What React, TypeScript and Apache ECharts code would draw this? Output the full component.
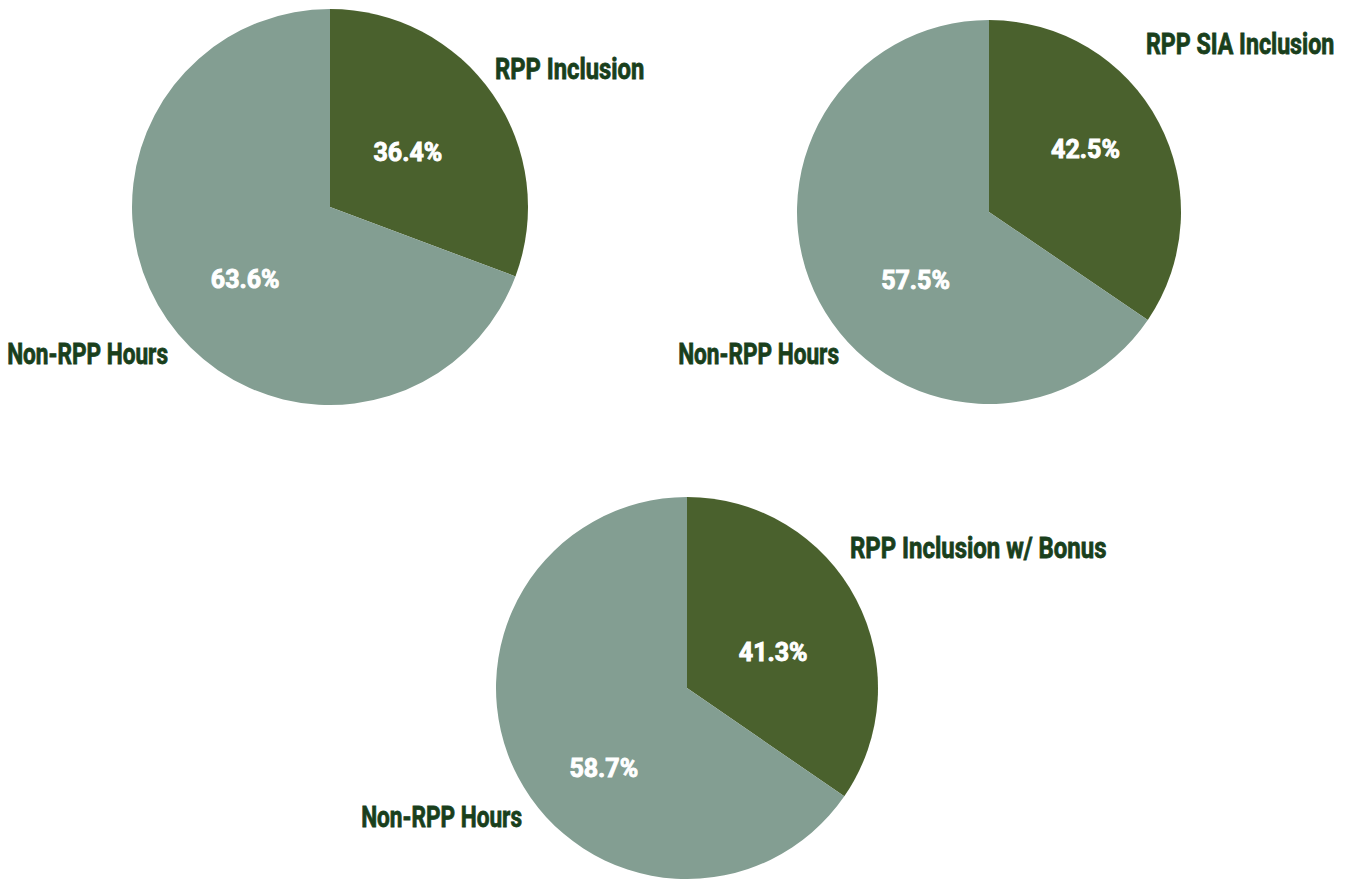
import React, { useEffect, useRef } from "react";
import * as echarts from "echarts";

// Category names per pie
const pieNames1 = ["RPP Inclusion", "Non-RPP Hours"];
const pieNames2 = ["RPP SIA Inclusion", "Non-RPP Hours"];
const pieNames3 = ["RPP Inclusion w/ Bonus", "Non-RPP Hours"];

// Slice shares as drawn
const pieShares1 = [30.7, 69.3];
const pieShares2 = [34.5, 65.5];
const pieShares3 = [34.6, 65.4];

// Percent labels as printed
const pieLabels1 = ["36.4%", "63.6%"];
const pieLabels2 = ["42.5%", "57.5%"];
const pieLabels3 = ["41.3%", "58.7%"];

const COLORS = ["#4a612d", "#839e92"];
const NAME_COLOR = "#193f1c";
const FONT = "Roboto, 'DejaVu Sans Condensed', sans-serif";

const pies = [
  { names: pieNames1, shares: pieShares1, labels: pieLabels1, center: [330, 207], r: 198,
    pctShift: [[-6, 4], [-1, 14]],
    namePos: [ { x: 495, y: 69, align: "left", sx: 0.82 }, { x: 168, y: 354, align: "right", sx: 0.78 } ] },
  { names: pieNames2, shares: pieShares2, labels: pieLabels2, center: [989, 212], r: 192,
    pctShift: [[9, -16], [14, 22]],
    namePos: [ { x: 1146, y: 44, align: "left", sx: 0.8 }, { x: 839, y: 354, align: "right", sx: 0.78 } ] },
  { names: pieNames3, shares: pieShares3, labels: pieLabels3, center: [687, 688], r: 191,
    pctShift: [[-1, 10], [4, 35]],
    namePos: [ { x: 850, y: 548, align: "left", sx: 0.825 }, { x: 522, y: 817, align: "right", sx: 0.78 } ] },
];

export default function App() {
  const ref = useRef<HTMLDivElement>(null);
  useEffect(() => {
    if (!ref.current) return;
    const chart = echarts.init(ref.current, undefined, { renderer: "svg" });
    const series: any[] = [];
    const graphic: any[] = [];
    pies.forEach((p) => {
      series.push({
        type: "pie",
        center: p.center,
        radius: p.r,
        startAngle: 90,
        clockwise: true,
        silent: true,
        data: p.names.map((n, i) => ({ name: n, value: p.shares[i], itemStyle: { color: COLORS[i] } })),
        label: {
          show: true,
          position: "inside",
          formatter: (params: any) => p.labels[params.dataIndex],
          color: "#ffffff",
          fontFamily: FONT,
          fontWeight: "bold",
          fontSize: 25,
          textBorderColor: "#ffffff",
          textBorderWidth: 0.9,
        },
        labelLine: { show: false },
        labelLayout: (params: any) => {
          const s = p.pctShift[params.dataIndex];
          return { dx: s[0], dy: s[1] };
        },
      });
      p.names.forEach((n, i) => {
        const np = p.namePos[i];
        graphic.push({
          type: "text",
          x: np.x,
          y: np.y,
          scaleX: np.sx,
          silent: true,
          style: {
            text: n,
            fill: NAME_COLOR,
            font: "bold 29px " + FONT,
            align: np.align,
            verticalAlign: "middle",
            stroke: NAME_COLOR,
            lineWidth: 0.8,
          },
        });
      });
    });
    chart.setOption({
      animation: false,
      backgroundColor: "#ffffff",
      series,
      graphic,
    });
    return () => chart.dispose();
  }, []);
  return (
    <div
      ref={ref}
      style={{ position: "fixed", left: 0, top: 0, width: 1348, height: 879 }}
    />
  );
}
